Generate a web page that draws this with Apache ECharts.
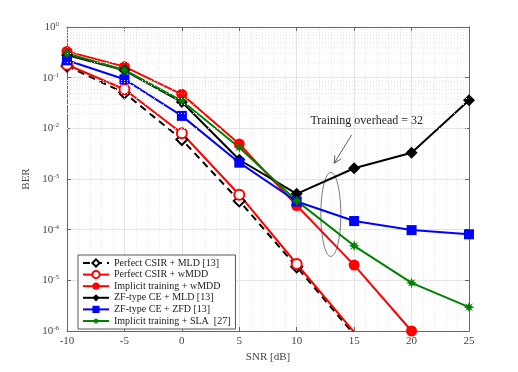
<!DOCTYPE html>
<html lang="en">
<head>
    <meta charset="UTF-8">
    <title>BER vs SNR</title>
    <style>
        body { margin: 0; background: #fff; }
    </style>
</head>
<body>
    <div id="main" style="width: 518px; height: 372px;"></div>

    <script src="https://cdn.jsdelivr.net/npm/echarts@6/dist/echarts.min.js"></script>
    <script>
        // data
        var snr = [-10, -5, 0, 5, 10, 15, 20, 25];
        var perfectMld  = [0.17, 0.05, 0.006, 3.7e-4, 1.85e-5, 8.5e-7];
        var perfectWmdd = [0.18, 0.059, 0.008, 4.9e-4, 2.1e-5, 9.5e-7];
        var implicitWmdd = [0.33, 0.165, 0.047, 0.0049, 3.0e-4, 2.0e-5, 1.0e-6];
        var zfMld  = [0.28, 0.14, 0.033, 0.0024, 5.1e-4, 1.63e-3, 3.3e-3, 0.036];
        var zfZfd  = [0.22, 0.093, 0.0176, 0.0021, 3.6e-4, 1.48e-4, 9.8e-5, 8.1e-5];
        var implicitSla = [0.30, 0.142, 0.035, 0.0042, 3.7e-4, 4.8e-5, 8.9e-6, 2.95e-6];
        var names = ['Perfect CSIR + MLD [13]', 'Perfect CSIR + wMDD', 'Implicit training + wMDD',
            'ZF-type CE + MLD [13]', 'ZF-type CE + ZFD [13]', 'Implicit training + SLA  [27]'];

        // minor log grid lines 2..9 in each decade
        var minorY = [];
        for (var e = -6; e < 0; e++) {
            for (var k = 2; k <= 9; k++) minorY.push({ yAxis: k * Math.pow(10, e) });
        }

        function pairs(vals) {
            return vals.map(function (v, i) { return [snr[i], v]; });
        }

        var font = 'Liberation Serif';
        var star = 'path://M0,-10 L2,-4 L7,-7 L4,-2 L10,0 L4,2 L7,7 L2,4 L0,10 L-2,4 L-7,7 L-4,2 L-10,0 L-4,-2 L-7,-7 L-2,-4 Z';

        var myChart = echarts.init(document.getElementById('main'));
        var yLabel = {
            fontFamily: font, fontSize: 11, color: '#444',
            formatter: function (v) {
                var ex = Math.round(Math.log10(v));
                return '10{s|' + ex + '}';
            },
            rich: { s: { fontSize: 7, fontFamily: font, color: '#444', verticalAlign: 'top', padding: [0, 0, 6, 0] } }
        };

        var option = {
            backgroundColor: '#fff',
            animation: false,
            grid: { left: 67, right: 49, top: 27, bottom: 41 },
            legend: {
                orient: 'vertical',
                left: 78, top: 255,
                itemWidth: 26, itemHeight: 9, itemGap: 1.6,
                padding: [3, 5, 3, 4],
                backgroundColor: '#fff',
                borderColor: '#555', borderWidth: 1,
                textStyle: { fontFamily: font, fontSize: 10, color: '#222', lineHeight: 10 },
                data: names
            },
            xAxis: [{
                type: 'value', min: -10, max: 25, interval: 5,
                name: 'SNR [dB]', nameLocation: 'middle', nameGap: 19,
                nameTextStyle: { fontFamily: font, fontSize: 11, color: '#444' },
                axisLine: { onZero: false, lineStyle: { color: '#666' } },
                axisTick: { inside: true, length: 4, lineStyle: { color: '#666' } },
                axisLabel: { fontFamily: font, fontSize: 11, color: '#444', margin: 5 },
                splitLine: { lineStyle: { color: '#e4e4e4' } },
                minorTick: { show: false, splitNumber: 5 },
                minorSplitLine: { show: true, lineStyle: { color: '#e6e6e6', type: [1, 2] } }
            }, {
                type: 'value', min: -10, max: 25, interval: 5, position: 'top',
                axisLine: { show: true, onZero: false, lineStyle: { color: '#666' } },
                axisTick: { inside: true, length: 4, lineStyle: { color: '#666' } },
                axisLabel: { show: false }, splitLine: { show: false }
            }],
            yAxis: [{
                type: 'log', logBase: 10, min: 1e-6, max: 1,
                name: 'BER', nameLocation: 'middle', nameGap: 28,
                nameTextStyle: { fontFamily: font, fontSize: 11, color: '#444' },
                axisLine: { show: true, onZero: false, lineStyle: { color: '#666' } },
                axisTick: { inside: true, length: 4, lineStyle: { color: '#666' } },
                axisLabel: yLabel,
                splitLine: { lineStyle: { color: '#e4e4e4' } }
            }, {
                type: 'log', logBase: 10, min: 1e-6, max: 1, position: 'right',
                axisLine: { show: true, onZero: false, lineStyle: { color: '#666' } },
                axisTick: { inside: true, length: 4, lineStyle: { color: '#666' } },
                axisLabel: { show: false }, splitLine: { show: false }
            }],
            series: [
                {
                    // minor log grid
                    type: 'line', data: [], silent: true,
                    markLine: {
                        silent: true, symbol: 'none', label: { show: false },
                        lineStyle: { color: '#e6e6e6', type: [1, 2], width: 1 },
                        data: minorY
                    }
                },
                {
                    name: names[0], type: 'line', data: pairs(perfectMld),
                    symbol: 'emptyDiamond', symbolSize: 11,
                    lineStyle: { color: '#000', width: 2, type: [7, 5] },
                    itemStyle: { color: '#000', borderWidth: 2 }
                },
                {
                    name: names[1], type: 'line', data: pairs(perfectWmdd),
                    symbol: 'emptyCircle', symbolSize: 10,
                    lineStyle: { color: '#ff0000', width: 2 },
                    itemStyle: { color: '#ff0000', borderWidth: 2 }
                },
                {
                    name: names[2], type: 'line', data: pairs(implicitWmdd),
                    symbol: 'circle', symbolSize: 11,
                    lineStyle: { color: '#ff0000', width: 2 },
                    itemStyle: { color: '#ff0000' }
                },
                {
                    name: names[3], type: 'line', data: pairs(zfMld),
                    symbol: 'diamond', symbolSize: 12,
                    lineStyle: { color: '#000', width: 2 },
                    itemStyle: { color: '#000' }
                },
                {
                    name: names[4], type: 'line', data: pairs(zfZfd),
                    symbol: 'rect', symbolSize: 10,
                    lineStyle: { color: '#0000ff', width: 2 },
                    itemStyle: { color: '#0000ff' }
                },
                {
                    name: names[5], type: 'line', data: pairs(implicitSla),
                    symbol: star, symbolSize: 11,
                    lineStyle: { color: '#008000', width: 2 },
                    itemStyle: { color: '#008000' }
                }
            ]
        };
        myChart.setOption(option);

        // annotation: text, arrow and ellipse placed in data coordinates
        var textAt = myChart.convertToPixel({ gridIndex: 0 }, [16.1, 0.0142]);
        var arrowFrom = myChart.convertToPixel({ gridIndex: 0 }, [14.78, 7.4e-3]);
        var arrowTo = myChart.convertToPixel({ gridIndex: 0 }, [13.26, 2.05e-3]);
        var ellC = myChart.convertToPixel({ gridIndex: 0 }, [12.97, 2.0e-4]);
        var dx = arrowTo[0] - arrowFrom[0], dy = arrowTo[1] - arrowFrom[1];
        var len = Math.sqrt(dx * dx + dy * dy);
        var ux = dx / len, uy = dy / len, hl = 7, hw = 3.5;
        var head = [
            [arrowTo[0] - ux * hl - uy * hw, arrowTo[1] - uy * hl + ux * hw],
            arrowTo,
            [arrowTo[0] - ux * hl + uy * hw, arrowTo[1] - uy * hl - ux * hw]
        ];

        myChart.setOption({
            graphic: [
                {
                    type: 'text', x: textAt[0], y: textAt[1],
                    style: { text: 'Training overhead = 32', fontFamily: font, fontSize: 12, fill: '#222', align: 'center', verticalAlign: 'middle' }
                },
                {
                    type: 'line', shape: { x1: arrowFrom[0], y1: arrowFrom[1], x2: arrowTo[0], y2: arrowTo[1] },
                    style: { stroke: '#333', lineWidth: 0.8 }
                },
                {
                    type: 'polyline', shape: { points: head },
                    style: { stroke: '#333', lineWidth: 0.8, fill: null }
                },
                {
                    type: 'ellipse', shape: { cx: ellC[0], cy: ellC[1], rx: 10, ry: 42 },
                    style: { stroke: '#555', lineWidth: 0.8, fill: null }
                }
            ]
        });
    </script>
</body>
</html>
